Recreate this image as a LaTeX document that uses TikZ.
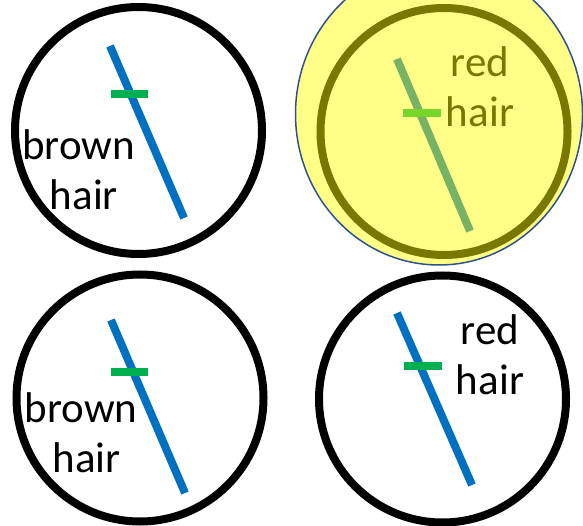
\documentclass[tikz,border=0pt]{standalone}
\usepackage{fontspec}
\setmainfont{Carlito}
\usepackage{tikz}
\usetikzlibrary{positioning}
\definecolor{myblue}{RGB}{0,112,192}
\definecolor{mygreen}{RGB}{0,176,80}
\definecolor{myyellow}{RGB}{255,255,0}
\definecolor{myedge}{RGB}{47,82,143}
\tikzset{
  ring/.style={circle, draw=black, line width=8pt, minimum size=247pt,
    inner sep=0pt},
  rod/.style={draw=myblue, line width=8pt},
  notch/.style={draw=mygreen, line width=7.5pt},
  hairtext/.style={align=center, inner sep=0pt,
    font=\fontsize{43}{50}\selectfont},
  glow/.style={fill=myyellow, fill opacity=0.47, draw=myedge,
    line width=1.5pt}
}
\begin{document}
\begin{tikzpicture}[x=1pt, y=-1pt]
  \useasboundingbox (0,0) rectangle (583,526);
  % four cells
  \node[ring] (c1) at (138.5,130.5) {};
  \node[ring] (c2) at (444,131.5) {};
  \node[ring] (c3) at (140,398) {};
  \node[ring] (c4) at (442.5,399) {};
  % rods with their marks
  \draw[rod] (110,46) -- (184,218);
  \draw[notch] (111,94) -- (148,94);
  \draw[rod] (397,59) -- (470,231);
  \draw[notch] (403,113) -- (441,113);
  \draw[rod] (111,320) -- (185,493);
  \draw[notch] (111,372) -- (148,372);
  \draw[rod] (397,313) -- (472,485);
  \draw[notch] (404,366) -- (442,366);
  % labels
  \node[hairtext] (t1) at (84,170) {brown\hspace*{0.25em}\\hair};
  \node[hairtext] (t2) at (480,87) {red\\hair};
  \node[hairtext] (t3) at (86.5,433) {brown\hspace*{0.25em}\\hair};
  \node[hairtext] (t4) at (490,355) {red\\hair};
  % highlight over the second cell
  \draw[glow] (439,114) ellipse [x radius=143.5, y radius=151];
\end{tikzpicture}
\end{document}
